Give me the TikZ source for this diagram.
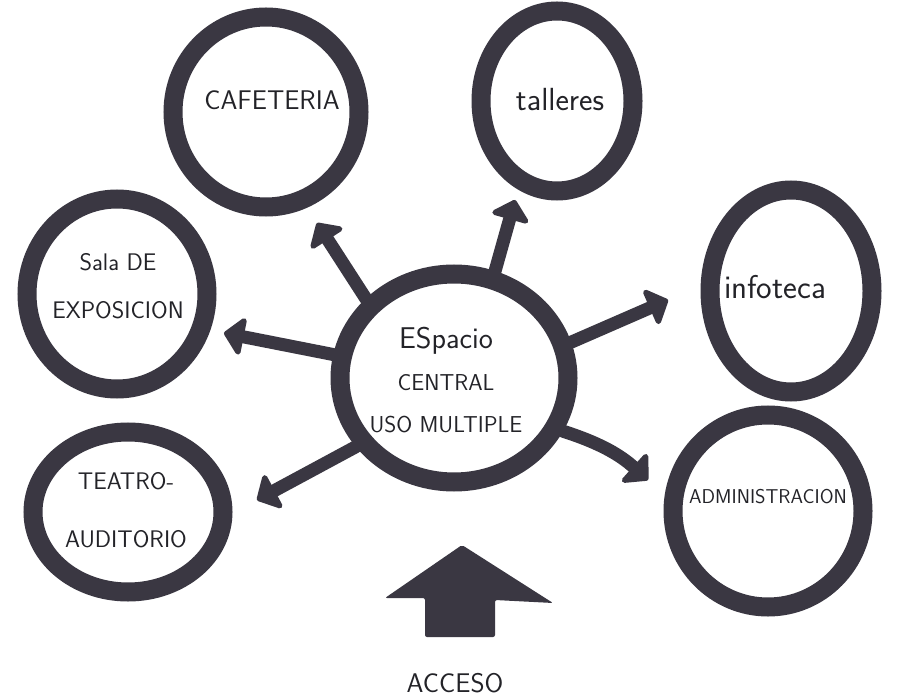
\documentclass[tikz,border=0pt]{standalone}
\usetikzlibrary{shapes.geometric,arrows.meta}
\definecolor{ink}{RGB}{58,55,66}
\definecolor{pen}{RGB}{35,35,40}
\tikzset{
  ring/.style={ellipse, draw=ink, line width=19pt, inner sep=0pt, fill=white},
  lbl/.style={text=pen, font=\sffamily\fontsize{20}{24}\selectfont, align=center, inner sep=0pt},
  link/.style={draw=ink, line width=13pt, line cap=round,
    -{Triangle[width=44pt,length=21pt,round]}},
}
\begin{document}
\begin{tikzpicture}[x=1pt,y=-1pt]
\useasboundingbox (0,0) rectangle (915,700);
\fill[white] (0,0) rectangle (915,700);

% surrounding spaces
\node[ring, minimum width=186pt, minimum height=190pt] (caf) at (266,112) {};
\node[ring, minimum width=152pt, minimum height=180pt] (tal) at (557,101) {};
\node[ring, minimum width=162pt, minimum height=202pt] (inf) at (791,291) {};
\node[ring, minimum width=180pt, minimum height=190pt] (sal) at (117,294) {};
\node[ring, minimum width=190pt, minimum height=160pt] (tea) at (128,512) {};
\node[ring, minimum width=190pt, minimum height=192pt] (adm) at (768,511) {};
% central space
\node[ring, minimum width=228pt, minimum height=208pt] (cen) at (454,378) {};

% arrow tips
\coordinate (tcaf) at (317,223);
\coordinate (ttal) at (515,200);
\coordinate (tinf) at (668,300);
\coordinate (tsal) at (224,333);
\coordinate (ttea) at (257,500);
\coordinate (tadm) at (648,480);

\draw[link] (cen.138) -- (tcaf);
\draw[link] (cen.69) -- (ttal);
\draw[link] (cen.17) -- (tinf);
\draw[link] (cen.169) -- (tsal);
\draw[link] (cen.215) -- (ttea);
\draw[link] (cen.334) to[bend left=12] (tadm);

% labels
\node[lbl, font=\sffamily\fontsize{27}{30}\selectfont] (lcaf) at (272,100) {CAFETERIA};
\node[lbl, font=\sffamily\fontsize{32}{34}\selectfont] (ltal) at (560,100) {talleres};
\node[lbl, font=\sffamily\fontsize{33}{36}\selectfont] (linf) at (775,287) {infoteca};
\node[lbl, font=\sffamily\fontsize{24}{48}\selectfont] (lsal) at (118,286) {Sala DE\\EXPOSICION};
\node[lbl, font=\sffamily\fontsize{24}{58}\selectfont] (ltea) at (126,510) {TEATRO-\\AUDITORIO};
\node[lbl, font=\sffamily\fontsize{20}{24}\selectfont] (ladm) at (768,497) {ADMINISTRACION};
\node[lbl, font=\sffamily\fontsize{23}{42}\selectfont] (lcen) at (446,380) {\fontsize{30}{42}\selectfont ESpacio\\CENTRAL\\USO MULTIPLE};

% access arrow
\fill[ink, rounded corners=2pt] (462,545) -- (553,603) -- (495,600) -- (495,637)
  -- (425,637) -- (425,598) -- (385,598) -- cycle;
\node[lbl, font=\sffamily\fontsize{27}{30}\selectfont] (lacc) at (455,683) {ACCESO};
\end{tikzpicture}
\end{document}
